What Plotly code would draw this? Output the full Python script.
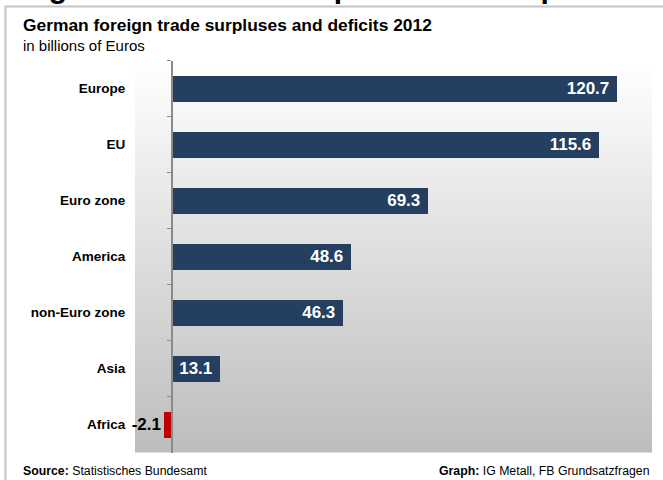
import plotly.graph_objects as go

# Trade balance of Germany by region, 2012 (billions of euros)
regions = ["Europe", "EU", "Euro zone", "America", "non-Euro zone", "Asia", "Africa"]
balances = [120.7, 115.6, 69.3, 48.6, 46.3, 13.1, -2.1]

W, H = 663, 480
FONT = "Liberation Sans, Arial, sans-serif"

# plot area in pixels
px_left, px_right = 135, 652
px_top, px_bottom = 60.5, 452.5
x_range = [-10.03, 130.08]

NAVY = "#243f60"
RED = "#c00000"

bar_colors = [NAVY if v >= 0 else RED for v in balances]
text_pos = ["inside" if v >= 0 else "outside" for v in balances]
text_cols = ["white" if v >= 0 else "black" for v in balances]
text_tpl = ["%{x:.1f}\u00a0" if v >= 0 else "%{x:.1f}" for v in balances]

fig = go.Figure()
fig.add_trace(go.Bar(
    y=regions,
    x=balances,
    orientation="h",
    width=0.475,
    marker=dict(color=bar_colors, line=dict(width=0)),
    texttemplate=text_tpl,
    textposition=text_pos,
    insidetextanchor="end",
    constraintext="none",
    cliponaxis=False,
    textfont=dict(family=FONT, size=17, weight="bold", color=text_cols),
    hoverinfo="skip",
))

def px2fx(px):
    return px / W

def py2fy(py):
    return 1 - py / H

# where x = 0 falls on the page (vertical category axis sits there)
zero_px = px_left + (0 - x_range[0]) / (x_range[1] - x_range[0]) * (px_right - px_left)

shapes = []
# vertical white-to-grey gradient behind the plot area
n_strips = 98
for i in range(n_strips):
    t = (i + 0.5) / n_strips
    g = round(255 - (255 - 189) * t)
    y0 = px_top + (px_bottom - px_top) * i / n_strips
    y1 = px_top + (px_bottom - px_top) * (i + 1) / n_strips + 0.6
    shapes.append(dict(
        type="rect", xref="paper", yref="paper", layer="below",
        x0=px2fx(px_left), x1=px2fx(px_right),
        y0=py2fy(min(y1, px_bottom)), y1=py2fy(y0),
        fillcolor=f"rgb({g},{g},{g})", line=dict(width=0),
    ))

# frame around the panel
shapes.append(dict(
    type="rect", xref="paper", yref="paper", layer="below",
    x0=px2fx(5.5), x1=1.05, y0=-0.05, y1=py2fy(6.5),
    line=dict(color="#c4c4c4", width=2), fillcolor="rgba(0,0,0,0)",
))

annotations = [
    dict(text="Figure 1: Greatest surplus with Europe", x=px2fx(20), y=py2fy(6),
         xref="paper", yref="paper", xanchor="left", yanchor="bottom", showarrow=False,
         font=dict(family=FONT, size=30, weight="bold", color="black")),
    dict(text="<b>German foreign trade surpluses and deficits 2012</b>", x=px2fx(21), y=py2fy(25),
         xref="paper", yref="paper", xanchor="left", yanchor="middle", showarrow=False,
         font=dict(family=FONT, size=17.4, color="black")),
    dict(text="in billions of Euros", x=px2fx(21), y=py2fy(45), xref="paper", yref="paper",
         xanchor="left", yanchor="middle", showarrow=False,
         font=dict(family=FONT, size=15, color="black")),
    dict(text="<b>Source:</b> Statistisches Bundesamt", x=px2fx(21), y=py2fy(471),
         xref="paper", yref="paper", xanchor="left", yanchor="middle", showarrow=False,
         font=dict(family=FONT, size=12.3, color="black")),
    dict(text="<b>Graph:</b> IG Metall, FB Grundsatzfragen", x=px2fx(652), y=py2fy(471),
         xref="paper", yref="paper", xanchor="right", yanchor="middle", showarrow=False,
         font=dict(family=FONT, size=12.3, color="black")),
]

fig.update_layout(
    width=W, height=H,
    margin=dict(l=0, r=0, t=0, b=0),
    paper_bgcolor="white",
    plot_bgcolor="rgba(0,0,0,0)",
    showlegend=False,
    bargap=0,
    shapes=shapes,
    annotations=annotations,
    xaxis=dict(
        domain=[px2fx(px_left), px2fx(px_right)],
        range=x_range, visible=False, showgrid=False, zeroline=False,
    ),
    yaxis=dict(
        type="category",
        categoryorder="array", categoryarray=regions,
        range=[len(regions) - 0.5, -0.5],
        domain=[py2fy(px_bottom), py2fy(px_top)],
        anchor="free", position=zero_px / W,
        showline=True, linecolor="#8a8a8a", linewidth=2,
        ticks="outside", tickson="boundaries", ticklen=4, tickcolor="#8a8a8a", tickwidth=1,
        ticklabelstandoff=43,
        showgrid=False, zeroline=False,
        tickfont=dict(family=FONT, size=13.5, weight="bold", color="black"),
    ),
)

fig.write_html("out.html")
